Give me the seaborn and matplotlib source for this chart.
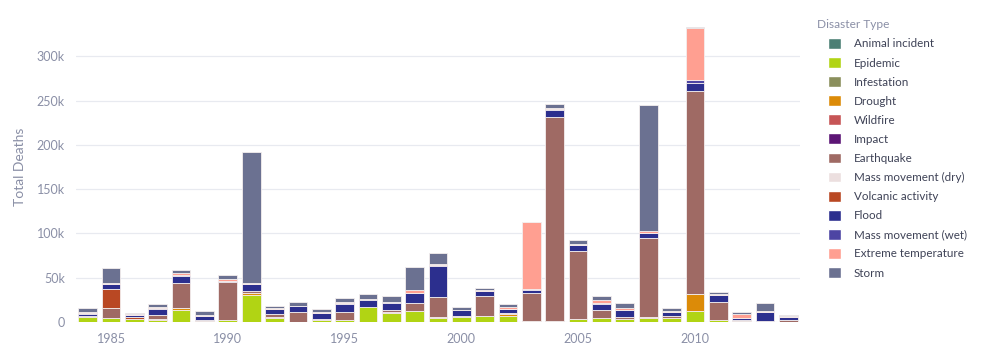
import matplotlib.pyplot as plt
import matplotlib.patches as mpatches
import pandas as pd
import seaborn as sns

# Deaths per disaster type and year, in thousands
YEARS = list(range(1984, 2015))

DISASTER_TYPES = ["Animal incident", "Epidemic", "Infestation", "Drought", "Wildfire", "Impact",
                  "Earthquake", "Mass movement (dry)", "Volcanic activity", "Flood",
                  "Mass movement (wet)", "Extreme temperature", "Storm"]

COLORS = ["#4b7f74", "#b1d414", "#8a8f5c", "#dc8b08", "#c65556", "#5c1575",
          "#9f6a64", "#ecdfdf", "#b94823", "#2c2f8e", "#4d45a3", "#ff9f91", "#6b7191"]

animal = [0.0] * 31
epidemic = [5.5, 5, 3, 2.5, 14, 1, 2, 30, 5, 0.5, 2, 2.5, 16.5, 10, 12, 5,
            6, 7, 7, 1.5, 1.5, 3, 5, 3.8, 5, 4.5, 12, 2, 0.7, 0.3, 0.5]
infestation = [0.0] * 31
drought = [0, 0, 0, 0, 2, 0, 0, 2.5, 0, 0, 0, 0, 0, 0, 0, 0,
           0, 0, 1.5, 0, 0, 0, 0, 0, 0, 0, 20, 0, 0, 0, 0]
wildfire = [0, 0, 0, 0.5, 0, 0, 0, 0, 0.5, 0, 0.4, 0, 0, 0.8, 0, 0.5,
            0, 0, 0, 0, 0, 0.4, 0, 0, 0.4, 0, 0, 0, 0, 0, 0]
impact = [0.0] * 31
earthquake = [1, 10.5, 0.5, 5, 27.5, 1, 43, 2, 3.5, 10.5, 1, 9, 0.7, 2.5, 10, 23,
              0.5, 22.5, 2, 31, 230, 77, 8, 1.5, 90, 2, 229, 21, 1, 1, 2]
mass_dry = [0.0] * 31
volcanic = [0, 22, 1.7, 0, 0, 0, 0, 1, 0, 0.3, 0, 0, 0, 0, 0, 0,
            0, 0, 0, 0, 0, 0, 0, 0, 0, 0, 0.3, 0, 0, 0, 0]
flood = [3, 5, 3, 7, 9, 5, 1.5, 7, 5.5, 6.5, 7, 9, 8, 8.5, 10.5, 35,
         6.5, 5, 4, 4, 8.3, 6.4, 7.5, 8.4, 5, 5, 8.7, 7, 3, 10, 3]
mass_wet = [0.3, 0.5, 0.2, 0.3, 0.3, 0.2, 0.3, 0.3, 0.3, 0.3, 0.3, 0.4, 0.3, 0.3, 0.5, 0.4,
            0.3, 0.3, 0.4, 0.5, 0.3, 0.3, 0.4, 0.3, 0.3, 0.3, 3.4, 0.3, 0.3, 0.3, 0.3]
extreme_temp = [1, 1, 0.3, 1.5, 2, 0.5, 1.5, 1, 0.5, 0.5, 1, 2, 1, 1, 3.5, 2,
                0.8, 1.5, 2, 75.8, 1, 1, 4.5, 1.5, 2, 1, 58, 1, 3.5, 1, 1]
storm = [4.5, 17, 2, 3.5, 3.5, 4.5, 5, 148, 2.5, 3.5, 3.5, 4, 5, 6, 25.5, 12,
         2.7, 2.5, 3, 0.5, 5, 5, 4.5, 6, 142.5, 3, 2, 2.5, 2.5, 9, 1.5]

SERIES = [animal, epidemic, infestation, drought, wildfire, impact, earthquake,
          mass_dry, volcanic, flood, mass_wet, extreme_temp, storm]


def main():
    rows = []
    for dtype, values in zip(DISASTER_TYPES, SERIES):
        for year, v in zip(YEARS, values):
            rows.append({"Year": year, "Disaster Type": dtype, "Total Deaths": v * 1000})
    df = pd.DataFrame(rows)
    palette = dict(zip(DISASTER_TYPES, COLORS))

    sns.set_theme(style="white")
    plt.rcParams["font.family"] = ["Lato", "DejaVu Sans"]

    fig = plt.figure(figsize=(9.81, 3.52), dpi=100)
    ax = fig.add_axes([76 / 981, 30 / 352, 724 / 981, 310 / 352])

    # seaborn stacks the first hue level on top, so reverse to get plotly's order
    sns.histplot(data=df, x="Year", weights="Total Deaths", hue="Disaster Type",
                 hue_order=DISASTER_TYPES[::-1], palette=palette, multiple="stack",
                 discrete=True, shrink=0.8, alpha=1, edgecolor="#f4eeee", linewidth=0.6,
                 legend=False, ax=ax)

    ax.set_xlim(1983.5, 2014.5)
    ax.set_ylim(0, 350000)
    ax.set_xticks([1985, 1990, 1995, 2000, 2005, 2010])
    ax.set_yticks([0, 50000, 100000, 150000, 200000, 250000, 300000])
    ax.set_yticklabels(["0", "50k", "100k", "150k", "200k", "250k", "300k"])
    ax.yaxis.grid(True, color="#e8eaf0", linewidth=0.9)
    ax.set_axisbelow(True)
    for s in ax.spines.values():
        s.set_visible(False)
    ax.tick_params(axis="both", length=0, labelsize=9, labelcolor="#8a8fa6")
    ax.tick_params(axis="y", pad=8)
    ax.tick_params(axis="x", pad=8)
    ax.set_xlabel("")
    ax.set_ylabel("Total Deaths", fontsize=10, color="#8a8fa6", labelpad=8)

    handles = [mpatches.Patch(facecolor=c, edgecolor="white", label=t)
               for t, c in zip(DISASTER_TYPES, COLORS)]
    leg = fig.legend(handles=handles, title="Disaster Type", loc="upper left",
                     bbox_to_anchor=(815 / 981, 1 - 17 / 352), frameon=False,
                     fontsize=8.4, title_fontsize=8.6, handlelength=1.05, handleheight=1.05,
                     handletextpad=1.4, labelspacing=0.66, alignment="left",
                     borderaxespad=0, borderpad=0.2)
    leg.get_title().set_color("#8a8fa6")
    # indent the entries a little relative to the title, as plotly does
    for h in leg.legend_handles:
        h.set_x(h.get_x() + 8)
    for text in leg.get_texts():
        text.set_color("#3e4256")
        text.set_x(text.get_position()[0] + 8)

    fig.savefig("out.png", dpi=100)


if __name__ == '__main__':
    main()
